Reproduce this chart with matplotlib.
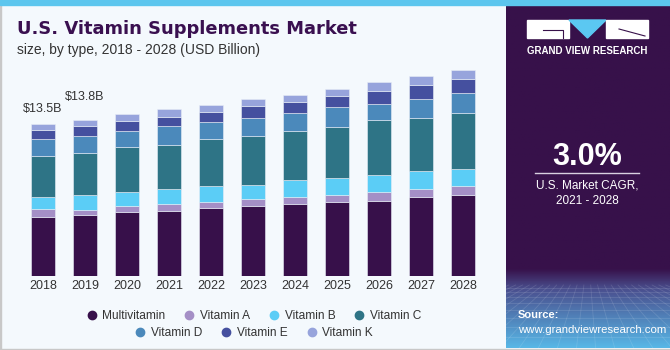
import matplotlib
matplotlib.use("Agg")
import matplotlib.pyplot as plt
import numpy as np
from matplotlib.patches import Rectangle, Polygon
from matplotlib.lines import Line2D

plt.rcParams["font.family"] = ["Liberation Sans", "DejaVu Sans"]

years = ["2018", "2019", "2020", "2021", "2022", "2023", "2024", "2025", "2026", "2027", "2028"]
segments = ["Multivitamin", "Vitamin A", "Vitamin B", "Vitamin C", "Vitamin D", "Vitamin E", "Vitamin K"]

multivitamin = [5.24, 5.39, 5.66, 5.77, 5.98, 6.22, 6.39, 6.57, 6.66, 6.96, 7.13]
vitamin_a = [0.65, 0.47, 0.53, 0.62, 0.58, 0.62, 0.57, 0.59, 0.74, 0.71, 0.80]
vitamin_b = [1.11, 1.30, 1.24, 1.33, 1.39, 1.24, 1.50, 1.47, 1.53, 1.62, 1.53]
vitamin_c = [3.60, 3.74, 4.01, 3.89, 4.16, 4.30, 4.39, 4.57, 4.86, 4.71, 4.98]
vitamin_d = [1.50, 1.48, 1.39, 1.68, 1.50, 1.59, 1.59, 1.74, 1.47, 1.65, 1.74]
vitamin_e = [0.86, 0.88, 0.91, 0.77, 0.88, 1.06, 0.97, 0.97, 1.11, 1.24, 1.26]
vitamin_k = [0.53, 0.53, 0.59, 0.73, 0.62, 0.65, 0.65, 0.62, 0.77, 0.77, 0.83]

value_labels = {"2018": "$13.5B", "2019": "$13.8B"}

colors = ["#37104a", "#a48fc6", "#5bcdf6", "#2e7486", "#4b89bb", "#45509f", "#97a4dc"]

W, H = 670, 350
bg = "#f4f9fd"
purple = "#37114a"

fig = plt.figure(figsize=(W / 100, H / 100), dpi=100, facecolor=bg)

# frame: gray border and blue strip on top
fig.patches.append(Rectangle((0, 0), 1 / W, 1, transform=fig.transFigure, color="#c8c8c8", zorder=0))
fig.patches.append(Rectangle((0, 0), 1, 1.5 / H, transform=fig.transFigure, color="#c8c8c8", zorder=0))
fig.patches.append(Rectangle((0, 1 - 5 / H), 1, 5 / H, transform=fig.transFigure, color="#5cc6ee", zorder=3))

# chart
ax = fig.add_axes([22 / W, 74 / H, 462 / W, 226 / H])
ax.set_facecolor("none")
data = [multivitamin, vitamin_a, vitamin_b, vitamin_c, vitamin_d, vitamin_e, vitamin_k]
x = np.arange(len(years))
bottom = np.zeros(len(years))
for name, vals, c in zip(segments, data, colors):
    ax.bar(x, vals, 0.57, bottom=bottom, color=c, edgecolor="#e8eef6", linewidth=0.4, label=name)
    bottom += np.array(vals)

offsets = {"2018": 15, "2019": 23}
for i, y in enumerate(years):
    if y in value_labels:
        ax.annotate(value_labels[y], (x[i], bottom[i]), xytext=(0, offsets[y] * 0.72),
                    textcoords="offset points", ha="center", va="center",
                    fontsize=9, color="#333333")

ax.set_xlim(-0.5, len(years) - 0.5)
ax.set_ylim(0, 20)
ax.set_xticks(x)
ax.set_xticklabels(years, fontsize=9, color="#333333")
ax.tick_params(axis="x", length=0, pad=3)
ax.set_yticks([])
for s in ax.spines.values():
    s.set_visible(False)

fig.text(17 / W, 1 - 29 / H, "U.S. Vitamin Supplements Market", fontsize=12.9, fontweight="bold",
         family="DejaVu Sans", color="#3a1050", va="center", ha="left")
fig.text(17 / W, 1 - 50 / H, "size, by type, 2018 - 2028 (USD Billion)", fontsize=10,
         color="#333333", va="center", ha="left")

# legend in two centered rows
handles = [Line2D([], [], marker="o", linestyle="", markersize=6, color=c) for c in colors]
leg_kw = dict(loc="center", frameon=False, fontsize=8.6, handletextpad=0.3, columnspacing=1.4,
              handlelength=1.2, labelcolor="#333333")
fig.legend(handles[:4], segments[:4], bbox_to_anchor=(253 / W, 1 - 316 / H), ncol=4, **leg_kw)
fig.legend(handles[4:], segments[4:], bbox_to_anchor=(253 / W, 1 - 333 / H), ncol=3, **leg_kw)

# right panel
px0 = 506
side = fig.add_axes([px0 / W, 1.5 / H, (W - px0) / W, (H - 5 - 1.5) / H])
side.set_xlim(0, W - px0)
side.set_ylim(H - 1.5, 5)
side.axis("off")
n = 200
grad = np.zeros((n, 1, 3))
top_c = np.array(matplotlib.colors.to_rgb(purple))
mid_c = np.array(matplotlib.colors.to_rgb("#4a4f8e"))
bot_c = np.array(matplotlib.colors.to_rgb("#58b9e8"))
ys = np.linspace(5, H - 1.5, n)
for k, yy in enumerate(ys):
    if yy < 270:
        grad[k, 0] = top_c
    elif yy < 290:
        t = (yy - 270) / 20
        grad[k, 0] = top_c * (1 - t) + mid_c * t
    else:
        t = (yy - 290) / (H - 290)
        grad[k, 0] = mid_c * (1 - t) + bot_c * t
side.imshow(grad, extent=(0, W - px0, H - 1.5, 5), aspect="auto", zorder=0)

# faint wireframe
vp = (82, 240)
for gx in np.linspace(-300, 460, 40):
    side.plot([vp[0] + (gx - vp[0]) * 0.35, gx], [285, H], color="white", alpha=0.12, lw=0.6, zorder=1)
for gy in [288, 292, 297, 303, 310, 318, 327, 337, 348]:
    side.plot([0, W - px0], [gy, gy], color="white", alpha=0.12, lw=0.6, zorder=1)

# logo
lx = 527 - px0
side.add_patch(Rectangle((lx, 20), 42, 18, color="white", zorder=2))
side.add_patch(Polygon([(lx + 42, 20), (lx + 79, 20), (lx + 60.5, 38)], color="#5bc8f2", zorder=2))
side.add_patch(Rectangle((lx + 79, 20), 42, 18, color="white", zorder=2))
side.plot([lx + 16, lx + 36, lx + 36], [30, 30, 38], color=purple, lw=0.8, zorder=3)
side.plot([lx + 92, lx + 118], [29, 36], color=purple, lw=0.8, zorder=3)
side.text(lx + 60.5, 51, "GRAND VIEW RESEARCH", color="white", fontsize=7, fontweight="bold",
          ha="center", va="center", zorder=3)

side.text(587 - px0, 157, "3.0%", color="white", fontsize=22, fontweight="bold",
          ha="center", va="center", zorder=3)
side.plot([535 - px0, 639 - px0], [173, 173], color="#d8d0e0", lw=1, zorder=3)
side.text(587 - px0, 185, "U.S. Market CAGR,", color="white", fontsize=8.5, ha="center", va="center", zorder=3)
side.text(587 - px0, 201, "2021 - 2028", color="white", fontsize=8.5, ha="center", va="center", zorder=3)
side.text(518 - px0, 315, "Source:", color="white", fontsize=8, fontweight="bold",
          ha="left", va="center", zorder=3)
side.text(518 - px0, 330, "www.grandviewresearch.com", color="white", fontsize=8.2,
          ha="left", va="center", zorder=3)

fig.savefig("out.png", dpi=100, facecolor=bg)
